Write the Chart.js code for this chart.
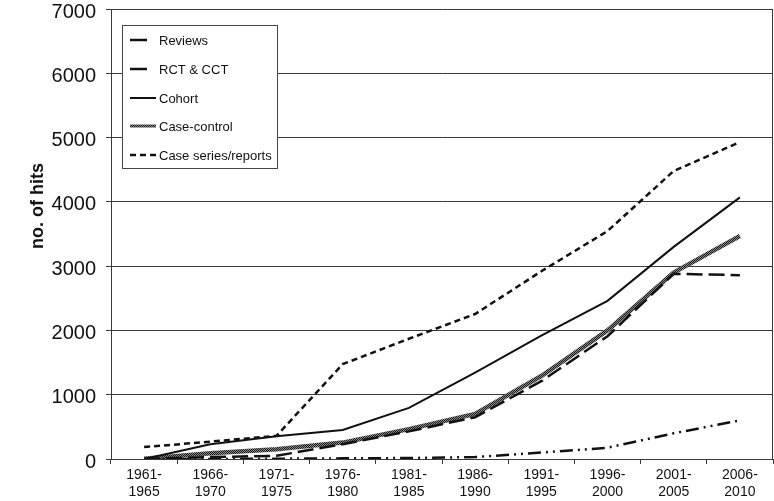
<!DOCTYPE html>
<html>
<head>
<meta charset="utf-8">
<script src="https://cdn.jsdelivr.net/npm/chart.js@4"></script>
<style>
html,body{margin:0;padding:0;background:#fff;}
#wrap{position:relative;width:774px;height:501px;}
</style>
</head>
<body>
<div id="wrap"><canvas id="c" width="774" height="501"></canvas></div>
<script>
const categories = [
  ['1961-','1965'],['1966-','1970'],['1971-','1975'],['1976-','1980'],['1981-','1985'],
  ['1986-','1990'],['1991-','1995'],['1996-','2000'],['2001-','2005'],['2006-','2010']
];
const reviews     = [0, 0, 5, 10, 15, 30, 100, 175, 400, 600];
const rctCct      = [0, 30, 50, 230, 430, 650, 1210, 1910, 2880, 2860];
const cohort      = [0, 230, 355, 450, 795, 1345, 1920, 2460, 3300, 4070];
const caseControl = [5, 90, 150, 255, 465, 700, 1290, 2000, 2900, 3470];
const caseSeries  = [185, 270, 360, 1475, 1870, 2255, 2920, 3545, 4480, 4930];
const seriesNames = ['Reviews', 'RCT & CCT', 'Cohort', 'Case-control', 'Case series/reports'];
const yTicks = [0, 1000, 2000, 3000, 4000, 5000, 6000, 7000];
const yTitle = 'no. of hits';

const FONT = "'Liberation Sans', Arial, sans-serif";
const AXIS = '#3a3a3a';

// textured pattern for the case-control line
const pc = document.createElement('canvas');
pc.width = 2; pc.height = 2;
const pctx = pc.getContext('2d');
pctx.fillStyle = '#8a8a8a'; pctx.fillRect(0, 0, 2, 2);
pctx.fillStyle = '#1a1a1a'; pctx.fillRect(0, 0, 1, 1); pctx.fillRect(1, 1, 1, 1);
const texture = pctx.createPattern(pc, 'repeat');

const styles = [
  {color:'#111', width:2.5, dash:[13,5,2,5,2,5]},
  {color:'#111', width:2.5, dash:[16,6]},
  {color:'#111', width:2, dash:[]},
  {color:texture, width:4.5, dash:[]},
  {color:'#111', width:2.5, dash:[6,4]}
];
const values = [reviews, rctCct, cohort, caseControl, caseSeries];

const datasets = values.map((v, i) => ({
  label: seriesNames[i],
  data: v,
  borderColor: styles[i].color,
  borderWidth: styles[i].width,
  borderDash: styles[i].dash,
  pointRadius: 0,
  fill: false,
  tension: 0,
  order: i === 3 ? 10 : i
}));

const legendPlugin = {
  id: 'boxLegend',
  afterDraw(chart) {
    const ctx = chart.ctx;
    const ca = chart.chartArea;
    ctx.save();
    // right border of plot
    ctx.strokeStyle = AXIS;
    ctx.lineWidth = 1;
    ctx.beginPath();
    ctx.moveTo(ca.right - 0.5, ca.top);
    ctx.lineTo(ca.right - 0.5, ca.bottom);
    ctx.stroke();
    // y-axis title
    ctx.save();
    ctx.translate(38, 206);
    ctx.rotate(-Math.PI / 2);
    ctx.font = 'bold 18px ' + FONT;
    ctx.fillStyle = '#111';
    ctx.textAlign = 'center';
    ctx.textBaseline = 'middle';
    ctx.fillText(yTitle, 0, 0);
    ctx.restore();
    // legend box
    const bx = 122.5, by = 25.5, bw = 155, bh = 143;
    ctx.fillStyle = '#fff';
    ctx.fillRect(bx, by, bw, bh);
    ctx.strokeStyle = '#444';
    ctx.lineWidth = 1;
    ctx.strokeRect(bx, by, bw, bh);
    const rows = [40, 69, 98, 126, 155];
    const lineEnds = [147, 147, 156, 156, 156];
    ctx.font = '13px ' + FONT;
    ctx.textBaseline = 'middle';
    rows.forEach((y, i) => {
      const s = styles[i];
      ctx.strokeStyle = s.color;
      ctx.lineWidth = i === 3 ? 3 : s.width;
      ctx.setLineDash(i < 2 ? [] : s.dash);
      ctx.beginPath();
      ctx.moveTo(130, y);
      ctx.lineTo(lineEnds[i], y);
      ctx.stroke();
      ctx.setLineDash([]);
      ctx.fillStyle = '#111';
      ctx.fillText(seriesNames[i], 159, y + 1);
    });
    ctx.restore();
  }
};

new Chart(document.getElementById('c'), {
  type: 'line',
  data: { labels: categories, datasets: datasets },
  options: {
    responsive: false,
    animation: false,
    layout: { padding: { left: 0, right: 1, top: 9, bottom: 0 } },
    plugins: { legend: { display: false }, tooltip: { enabled: false } },
    scales: {
      x: {
        offset: true,
        grid: { display: true, drawOnChartArea: false, drawTicks: true, tickLength: 5, offset: true, color: AXIS },
        border: { display: true, color: AXIS, width: 1 },
        ticks: { color: '#111', font: { family: FONT, size: 14 }, padding: 3, maxRotation: 0, autoSkip: false },
        afterFit(scale) { scale.height = 42; scale.paddingLeft = 0; scale.paddingRight = 0; }
      },
      y: {
        min: 0, max: 7000,
        afterBuildTicks(scale) { scale.ticks = yTicks.map(v => ({ value: v })); },
        grid: { color: AXIS, lineWidth: 1, tickLength: 5, drawTicks: true },
        border: { display: true, color: AXIS, width: 1 },
        ticks: { color: '#111', font: { family: FONT, size: 20 }, padding: 10, labelOffset: 3, callback: (v) => String(v) },
        afterFit(scale) { scale.width = 111; scale.paddingTop = 0; scale.paddingBottom = 0; }
      }
    }
  },
  plugins: [legendPlugin]
});
</script>
</body>
</html>
